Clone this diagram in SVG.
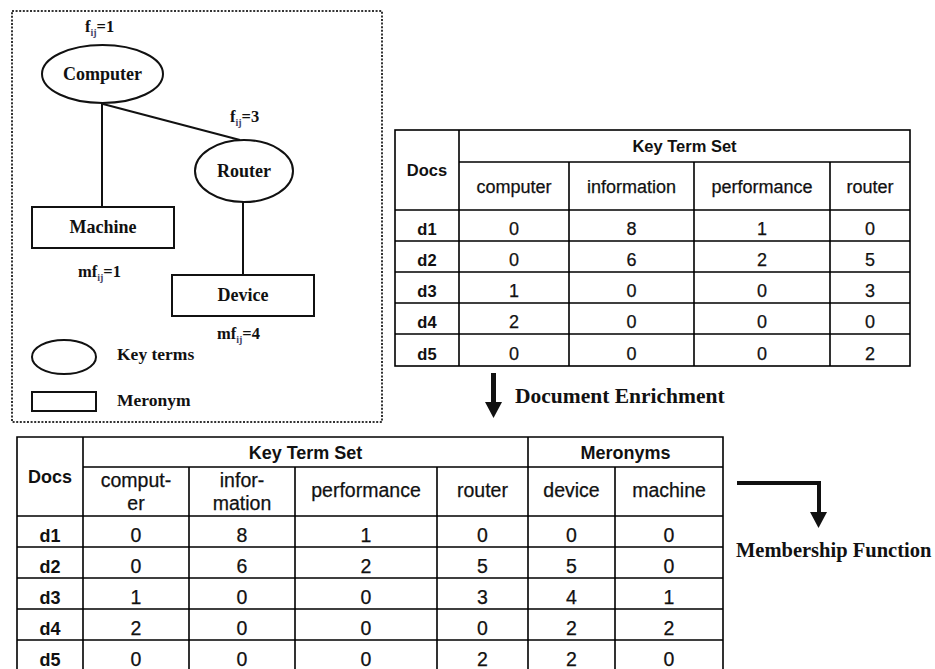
<svg xmlns="http://www.w3.org/2000/svg" width="935" height="669" viewBox="0 0 935 669">
<defs>
<style>
.bg{fill:#fff}
.dot{fill:none;stroke:#333;stroke-width:2;stroke-dasharray:2 1.6}
.shape{fill:#fff;stroke:#111;stroke-width:2}
.edge{fill:none;stroke:#111;stroke-width:2}
.lbl{font-family:"Liberation Serif","Times New Roman",serif;font-weight:bold;font-size:18px;fill:#111;text-anchor:middle}
.lbll{font-family:"Liberation Serif","Times New Roman",serif;font-weight:bold;font-size:17.5px;fill:#111}
.ann{font-family:"Liberation Serif","Times New Roman",serif;font-weight:bold;font-size:16.5px;fill:#111}
.sub{font-size:10px;fill:#446}
.cap{font-family:"Liberation Serif","Times New Roman",serif;font-weight:bold;fill:#111}
.grid{fill:none;stroke:#000;stroke-width:1.6}
.t1{font-family:"Liberation Sans",Arial,sans-serif;font-size:18px;fill:#111;stroke:#111;stroke-width:0.25;text-anchor:middle}
.t1b{font-family:"Liberation Sans",Arial,sans-serif;font-size:16.5px;font-weight:bold;fill:#111;text-anchor:middle}
.t2{font-family:"Liberation Sans",Arial,sans-serif;font-size:19.5px;fill:#111;stroke:#111;stroke-width:0.25;text-anchor:middle}
.t2b{font-family:"Liberation Sans",Arial,sans-serif;font-size:18px;font-weight:bold;fill:#111;text-anchor:middle}
.arr{fill:#111}
</style>
</defs>
<rect class="bg" x="0" y="0" width="935" height="669"/>

<!-- dotted frame -->
<rect id="frame" class="dot" x="12" y="11" width="370" height="411"/>

<!-- connectors -->
<g id="connectors">
  <line class="edge" x1="102" y1="103" x2="102" y2="207"/>
  <line class="edge" x1="103" y1="104" x2="240" y2="140"/>
  <line class="edge" x1="243" y1="202" x2="243" y2="275"/>
</g>

<g id="node-computer">
  <ellipse class="shape" cx="102.5" cy="74" rx="60.5" ry="29"/>
  <text class="lbl" x="102.5" y="80">Computer</text>
</g>
<g id="node-router">
  <ellipse class="shape" cx="244" cy="171" rx="49" ry="31"/>
  <text class="lbl" x="244" y="177">Router</text>
</g>
<g id="node-machine">
  <rect class="shape" x="32" y="207" width="142" height="41"/>
  <text class="lbl" x="103" y="233">Machine</text>
</g>
<g id="node-device">
  <rect class="shape" x="172" y="275" width="142" height="41"/>
  <text class="lbl" x="243" y="301">Device</text>
</g>

<g id="annotations">
  <text class="ann" x="85" y="32">f<tspan class="sub" dy="4">ij</tspan><tspan dy="-4">=1</tspan></text>
  <text class="ann" x="230" y="122">f<tspan class="sub" dy="4">ij</tspan><tspan dy="-4">=3</tspan></text>
  <text class="ann" x="78" y="277">mf<tspan class="sub" dy="4">ij</tspan><tspan dy="-4">=1</tspan></text>
  <text class="ann" x="217" y="339">mf<tspan class="sub" dy="4">ij</tspan><tspan dy="-4">=4</tspan></text>
</g>

<g id="legend">
  <ellipse class="shape" cx="64" cy="357" rx="32" ry="17"/>
  <text class="lbll" x="117" y="360">Key terms</text>
  <rect class="shape" x="32" y="392" width="64" height="19"/>
  <text class="lbll" x="117" y="406">Meronym</text>
</g>

<!-- top table -->
<g id="table-top">
  <rect class="grid" x="395" y="130" width="515" height="236"/>
  <path class="grid" d="M459 130V366M459 162H910M395 210H910M569 162V366M694 162V366M830 162V366M395 241H910M395 272H910M395 303H910M395 334H910"/>
  <text class="t1b" x="427" y="176">Docs</text>
  <text class="t1b" x="684.5" y="152">Key Term Set</text>
  <text class="t1" x="514" y="193">computer</text>
  <text class="t1" x="631.5" y="193">information</text>
  <text class="t1" x="762" y="193">performance</text>
  <text class="t1" x="870" y="193">router</text>
  <g>
    <text class="t1b" x="427" y="235">d1</text><text class="t1" x="514" y="235">0</text><text class="t1" x="631.5" y="235">8</text><text class="t1" x="762" y="235">1</text><text class="t1" x="870" y="235">0</text>
    <text class="t1b" x="427" y="266">d2</text><text class="t1" x="514" y="266">0</text><text class="t1" x="631.5" y="266">6</text><text class="t1" x="762" y="266">2</text><text class="t1" x="870" y="266">5</text>
    <text class="t1b" x="427" y="297">d3</text><text class="t1" x="514" y="297">1</text><text class="t1" x="631.5" y="297">0</text><text class="t1" x="762" y="297">0</text><text class="t1" x="870" y="297">3</text>
    <text class="t1b" x="427" y="328">d4</text><text class="t1" x="514" y="328">2</text><text class="t1" x="631.5" y="328">0</text><text class="t1" x="762" y="328">0</text><text class="t1" x="870" y="328">0</text>
    <text class="t1b" x="427" y="360">d5</text><text class="t1" x="514" y="360">0</text><text class="t1" x="631.5" y="360">0</text><text class="t1" x="762" y="360">0</text><text class="t1" x="870" y="360">2</text>
  </g>
</g>

<!-- Document Enrichment arrow -->
<g id="arrow-enrichment">
  <rect class="arr" x="491" y="373" width="5" height="31"/>
  <polygon class="arr" points="485,402 502,402 493.5,418"/>
  <text class="cap" x="515" y="403" font-size="21.5">Document Enrichment</text>
</g>

<!-- bottom table -->
<g id="table-bottom">
  <path class="grid" d="M17 671V437H723V671M83 437V671M528 437V671M83 467H723M189 467V671M295 467V671M437 467V671M615 467V671M17 516H723M17 547H723M17 578H723M17 609H723M17 640H723"/>
  <text class="t2b" x="50" y="483">Docs</text>
  <text class="t2b" x="305.5" y="459">Key Term Set</text>
  <text class="t2b" x="625.5" y="459">Meronyms</text>
  <text class="t2" x="136" y="487">comput-</text>
  <text class="t2" x="136" y="510">er</text>
  <text class="t2" x="242" y="487">infor-</text>
  <text class="t2" x="242" y="510">mation</text>
  <text class="t2" x="366" y="497">performance</text>
  <text class="t2" x="482.5" y="497">router</text>
  <text class="t2" x="571.5" y="497">device</text>
  <text class="t2" x="669" y="497">machine</text>
  <g>
    <text class="t2b" x="50" y="542">d1</text><text class="t2" x="136" y="542">0</text><text class="t2" x="242" y="542">8</text><text class="t2" x="366" y="542">1</text><text class="t2" x="482.5" y="542">0</text><text class="t2" x="571.5" y="542">0</text><text class="t2" x="669" y="542">0</text>
    <text class="t2b" x="50" y="573">d2</text><text class="t2" x="136" y="573">0</text><text class="t2" x="242" y="573">6</text><text class="t2" x="366" y="573">2</text><text class="t2" x="482.5" y="573">5</text><text class="t2" x="571.5" y="573">5</text><text class="t2" x="669" y="573">0</text>
    <text class="t2b" x="50" y="604">d3</text><text class="t2" x="136" y="604">1</text><text class="t2" x="242" y="604">0</text><text class="t2" x="366" y="604">0</text><text class="t2" x="482.5" y="604">3</text><text class="t2" x="571.5" y="604">4</text><text class="t2" x="669" y="604">1</text>
    <text class="t2b" x="50" y="635">d4</text><text class="t2" x="136" y="635">2</text><text class="t2" x="242" y="635">0</text><text class="t2" x="366" y="635">0</text><text class="t2" x="482.5" y="635">0</text><text class="t2" x="571.5" y="635">2</text><text class="t2" x="669" y="635">2</text>
    <text class="t2b" x="50" y="666">d5</text><text class="t2" x="136" y="666">0</text><text class="t2" x="242" y="666">0</text><text class="t2" x="366" y="666">0</text><text class="t2" x="482.5" y="666">2</text><text class="t2" x="571.5" y="666">2</text><text class="t2" x="669" y="666">0</text>
  </g>
</g>

<!-- Membership Function arrow -->
<g id="arrow-membership">
  <path class="arr" d="M737 481H821V514H817V485H737Z"/>
  <polygon class="arr" points="810,512 827,512 818.5,528"/>
  <text class="cap" x="736" y="557" font-size="20.5">Membership Function</text>
</g>
</svg>
